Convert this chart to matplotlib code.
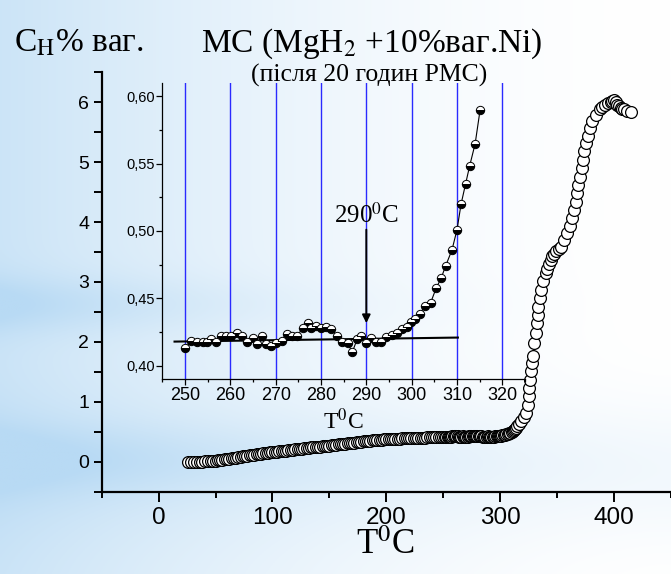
import numpy as np
import matplotlib
matplotlib.use("Agg")
import matplotlib.pyplot as plt
from matplotlib.ticker import MultipleLocator, FuncFormatter

plt.rcParams['mathtext.fontset'] = 'stix'
SANS = ['Liberation Sans', 'DejaVu Sans']
SERIF = ['Liberation Serif', 'DejaVu Serif']

# ---- data: main curve (T, C_H) ----
main_T_low = [26, 28.5, 31, 33.5, 36, 38.5, 41, 43.5, 46, 48,
              50, 52, 54, 56, 58, 60, 62, 64, 66, 68, 70, 72, 74, 76, 78,
              80, 82, 84, 86, 88, 90, 92, 94, 96, 98, 100, 102, 104, 106, 108,
              110, 112, 114, 116, 118, 120, 122, 124, 126, 128, 130, 132, 134,
              136, 138, 140, 142, 144, 146, 148, 150, 152, 154, 156, 158, 160,
              162, 164, 166, 168, 170, 172, 174, 176, 178, 180, 182, 184, 186,
              188, 190, 192, 194, 196, 198, 200, 202, 204, 206, 208, 210, 212,
              214, 216, 218, 220, 222, 224, 226, 228, 230, 232, 234, 236, 238,
              240, 242, 244, 246, 248]
main_C_low = [0.000, 0.000, 0.000, 0.000, 0.002, 0.004, 0.006, 0.008, 0.012, 0.016,
              0.020, 0.026, 0.030, 0.036, 0.040, 0.046, 0.052, 0.058, 0.064, 0.070,
              0.078, 0.086, 0.092, 0.098, 0.104, 0.110, 0.115, 0.120, 0.125, 0.130,
              0.135, 0.140, 0.145, 0.150, 0.155, 0.160, 0.164, 0.168, 0.172, 0.176,
              0.180, 0.185, 0.190, 0.195, 0.200, 0.205, 0.210, 0.215, 0.220, 0.225,
              0.230, 0.234, 0.238, 0.242, 0.246, 0.250, 0.254, 0.258, 0.262, 0.266,
              0.270, 0.275, 0.280, 0.285, 0.290, 0.295, 0.299, 0.303, 0.307, 0.311,
              0.315, 0.320, 0.325, 0.330, 0.335, 0.340, 0.344, 0.348, 0.352, 0.356,
              0.360, 0.363, 0.366, 0.369, 0.372, 0.375, 0.377, 0.379, 0.381, 0.383,
              0.385, 0.387, 0.389, 0.391, 0.393, 0.395, 0.396, 0.397, 0.398, 0.399,
              0.400, 0.402, 0.403, 0.405, 0.406, 0.408, 0.409, 0.410, 0.412, 0.413]

main_T_high = [316.8, 318.2, 320.5, 322.6, 324.0, 324.9, 325.5, 326.3, 326.9, 327.8,
               328.4, 330.1, 331.3, 331.9, 332.8, 333.6, 334.8, 336.0, 337.7, 340.1,
               341.5, 343.0, 344.5, 345.9, 347.5, 349.4, 351.3, 353.2, 356.1, 359.0,
               361.4, 363.4, 364.9, 366.4, 367.5, 368.7, 370.1, 371.6, 372.8, 373.9,
               375.1, 376.9, 378.6, 380.9, 383.9, 387.4, 389.5, 392.0, 394.5, 397.0,
               398.5, 400.0, 401.5, 402.9, 404.5, 405.9, 407.0, 408.7, 411.0, 414.5]
main_C_high = [0.63, 0.677, 0.75, 0.82, 0.955, 1.09, 1.23, 1.37, 1.51, 1.65,
               1.77, 1.98, 2.15, 2.32, 2.455, 2.59, 2.73, 2.87, 3.01, 3.15,
               3.22, 3.30, 3.37, 3.43, 3.47, 3.51, 3.55, 3.59, 3.70, 3.82,
               3.93, 4.07, 4.21, 4.34, 4.48, 4.62, 4.76, 4.90, 5.04, 5.18,
               5.32, 5.44, 5.57, 5.68, 5.79, 5.88, 5.92, 5.955, 5.99, 6.01,
               6.02, 6.03, 6.00, 5.955, 5.93, 5.90, 5.89, 5.88, 5.86, 5.83]

# ---- data: inset (250-315 C) ----
ins_T = [250.1, 251.4, 252.7, 254.0, 254.8, 255.7, 256.9, 257.9, 259.0, 260.1,
         261.4, 262.5, 263.7, 264.9, 265.9, 266.9, 267.8, 268.9, 270.1, 271.3,
         272.4, 273.6, 274.7, 276.0, 277.1, 277.9, 278.9, 280.0, 281.1, 282.3,
         283.5, 284.7, 285.9, 286.9, 288.0, 288.9, 290.0, 291.0, 292.1, 293.3,
         294.4, 295.6, 296.8, 297.9, 299.0, 299.8, 300.8, 301.8, 302.9, 304.2,
         305.4, 306.5, 307.5, 308.9, 310.0, 310.9, 311.9, 312.8, 314.0, 315.1]
ins_C = [0.4134, 0.4183, 0.4178, 0.4178, 0.4173, 0.4198, 0.4178, 0.4216, 0.4223, 0.4221,
         0.4240, 0.4223, 0.4173, 0.4208, 0.4159, 0.4216, 0.4159, 0.4146, 0.4166, 0.4186,
         0.4233, 0.4221, 0.4221, 0.4278, 0.4315, 0.4278, 0.4297, 0.4278, 0.4285, 0.4270,
         0.4223, 0.4178, 0.4166, 0.4099, 0.4198, 0.4221, 0.4171, 0.4208, 0.4173, 0.4178,
         0.4211, 0.4228, 0.4240, 0.4270, 0.4290, 0.4322, 0.4344, 0.4384, 0.4439, 0.4468,
         0.4575, 0.4649, 0.4741, 0.4860, 0.5009, 0.5200, 0.5351, 0.5485, 0.5648, 0.5901]
base_T = [247.7, 310.2]
base_C = [0.4178, 0.4208]
onset_T = 290
onset_C = [0.501, 0.4315]

main_T = main_T_low + ins_T + main_T_high
main_C = main_C_low + ins_C + main_C_high

W, H = 671, 574
fig = plt.figure(figsize=(W / 100, H / 100), dpi=100)

# background gradient (light blue on the left fading to white)
bg = fig.add_axes([0, 0, 1, 1], zorder=0)
xx, yy = np.meshgrid(np.linspace(0, 1, 300), np.linspace(1, 0, 300))
w = 0.72 * (1 - xx) ** 1.7
w += 0.35 * np.exp(-((yy - 0.47) / 0.05) ** 2) * (1 - xx) ** 2
w += 0.30 * np.exp(-((yy - 0.20) / 0.06) ** 2) * (1 - xx) ** 1.2
w += 0.18 * np.exp(-((yy - 0.18) / 0.12) ** 2)
w = np.clip(w, 0, 1)[..., None]
blue = np.array([184, 218, 244]) / 255.0
img = (1 - w) * np.ones(3) + w * blue
bg.imshow(img, extent=[0, 1, 0, 1], aspect='auto')
bg.axis('off')

# ---- main axes ----
ax = fig.add_axes([101.7 / W, 1 - 491.7 / H, 1 - 101.7 / W, (491.7 - 72.3) / H], zorder=1)
ax.set_facecolor('none')
ax.plot(main_T, main_C, 'o', ms=8.5, mfc='white', mec='black', mew=0.9)
ax.set_xlim(-50, 450)
ax.set_ylim(-0.5, 6.5)
ax.spines['top'].set_visible(False)
ax.spines['right'].set_visible(False)
for s in ('left', 'bottom'):
    ax.spines[s].set_linewidth(1.6)
ax.xaxis.set_major_locator(MultipleLocator(100))
ax.xaxis.set_minor_locator(MultipleLocator(50))
ax.yaxis.set_major_locator(MultipleLocator(1))
ax.yaxis.set_minor_locator(MultipleLocator(0.5))
ax.tick_params(axis='x', which='major', direction='out', length=7, width=1.4, labelsize=17.5, pad=4)
ax.tick_params(axis='x', which='minor', direction='out', length=4, width=1.4)
ax.tick_params(axis='y', which='major', direction='out', length=6, width=1.4, labelsize=14, pad=3)
ax.tick_params(axis='y', which='minor', direction='out', length=6, width=1.4)
for lab in ax.get_xticklabels() + ax.get_yticklabels():
    lab.set_family(SANS)

# ---- inset ----
ins = fig.add_axes([162.3 / W, 1 - 379 / H, (525 - 162.3) / W, (379 - 83) / H], zorder=2)
ins.set_facecolor('none')
ins.set_xlim(245, 325)
ins.set_ylim(0.39, 0.61)
ins.spines['top'].set_visible(False)
ins.spines['right'].set_visible(False)
for s in ('left', 'bottom'):
    ins.spines[s].set_linewidth(0.9)
ins.xaxis.set_major_locator(MultipleLocator(10))
ins.xaxis.set_minor_locator(MultipleLocator(5))
ins.yaxis.set_major_locator(MultipleLocator(0.05))
ins.yaxis.set_minor_locator(MultipleLocator(0.025))
ins.yaxis.set_major_formatter(FuncFormatter(lambda v, p: f"{v:.2f}".replace('.', ',')))
ins.tick_params(axis='both', which='major', direction='out', length=4, width=0.9)
ins.tick_params(axis='both', which='minor', direction='out', length=2.5, width=0.9)
ins.tick_params(axis='x', labelsize=13, pad=2)
ins.tick_params(axis='y', labelsize=10.5, pad=1)
for lab in ins.get_xticklabels() + ins.get_yticklabels():
    lab.set_family(SANS)
ins.grid(axis='x', which='major', color='#2a2aff', lw=1.0)
ins.set_axisbelow(True)
ins.plot(ins_T, ins_C, '-', color='black', lw=0.8, zorder=3)
ins.plot(ins_T, ins_C, 'o', ms=6, mfc='black', mfcalt='white', fillstyle='bottom',
         mec='black', mew=0.7, zorder=4)
ins.plot(base_T, base_C, '-', color='black', lw=1.5, zorder=3)
ins.annotate('', xy=(onset_T, onset_C[1]), xytext=(onset_T, onset_C[0]),
             arrowprops=dict(arrowstyle='-|>', color='black', lw=1.4,
                             mutation_scale=12, shrinkA=0, shrinkB=0), zorder=5)
ins.text(onset_T, 0.502, '290$^0$C', fontsize=18, family=SERIF, ha='center', va='bottom',
         zorder=5)
ins.set_xlabel('T$^0$C', fontsize=17, family=SERIF, labelpad=3)

# ---- texts ----
fig.text(385 / W, 1 - 545 / H, 'T$^0$C', fontsize=25, family=SERIF, ha='center', va='center')
fig.text(14 / W, 1 - 52 / H, 'C$_\\mathrm{H}$% ваг.', fontsize=24, family=SERIF,
         ha='left', va='baseline')
fig.text(372 / W, 1 - 52 / H, 'MC (MgH$_2$ +10%ваг.Ni)', fontsize=24, family=SERIF,
         ha='center', va='baseline')
fig.text(369 / W, 1 - 75 / H, '(після 20 годин РМС)', fontsize=18.5, family=SERIF,
         ha='center', va='center')

fig.savefig('out.png', dpi=100)
